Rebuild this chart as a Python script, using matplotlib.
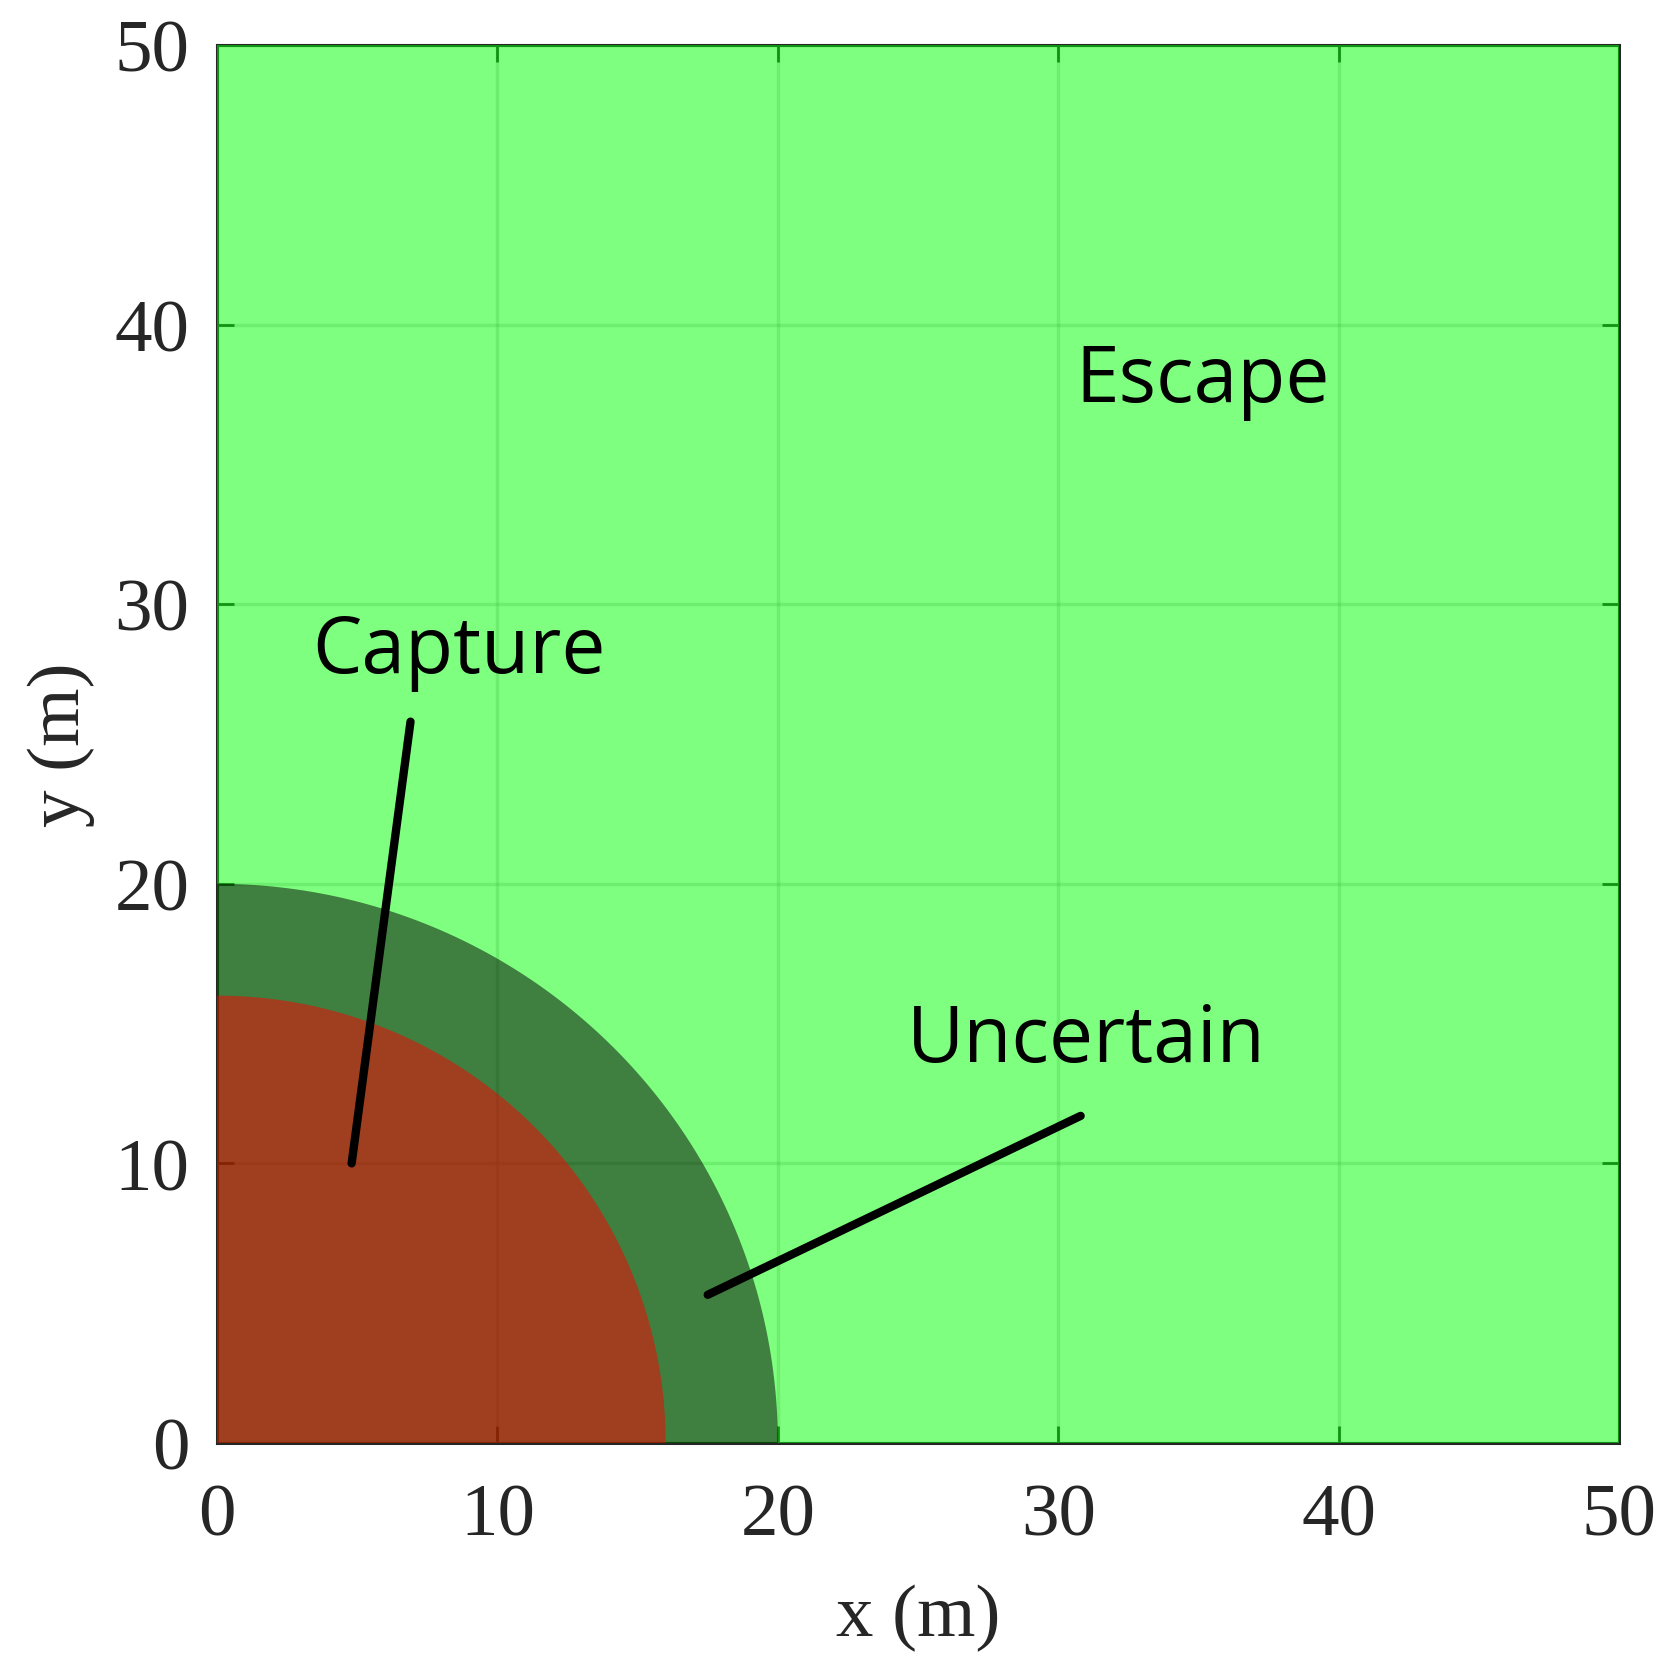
import numpy as np
import matplotlib
matplotlib.use("Agg")
import matplotlib.pyplot as plt

# data
domain = [0, 50]
capture_radius = 16
uncertain_radius = 20
ticks = [0, 10, 20, 30, 40, 50]
labels = [("Escape", 30.6, 38.0), ("Capture", 3.4, 28.3), ("Uncertain", 24.6, 14.4)]
pointer_capture = ([4.8, 6.9], [10.0, 25.8])
pointer_uncertain = ([17.5, 30.8], [5.3, 11.7])

fig = plt.figure(figsize=(16.76, 16.74), dpi=100)
ax = fig.add_axes([0.1295, 0.1374, 0.966 - 0.1295, 0.9725 - 0.1374])
ax.set_xlim(domain)
ax.set_ylim(domain)
ax.set_axisbelow(True)
ax.grid(True, color="#262626", alpha=0.15, linewidth=2.5)
for sp in ax.spines.values():
    sp.set_zorder(0.6)
    sp.set_linewidth(2.2)
    sp.set_color("#262626")

# regions (layered translucent fills)
ax.fill_between(domain, [domain[0]] * 2, [domain[1]] * 2, color=(0, 1, 0), alpha=0.5,
                linewidth=0, zorder=1)
th = np.linspace(0, np.pi / 2, 200)
for r, c in [(uncertain_radius, (0, 0, 0)), (capture_radius, (1, 0, 0))]:
    xs = np.concatenate([[0], r * np.cos(th)])
    ys = np.concatenate([[0], r * np.sin(th)])
    ax.fill(xs, ys, color=c, alpha=0.5, linewidth=0, zorder=1.1)

ax.plot(*pointer_capture, color="black", linewidth=6, solid_capstyle="round", zorder=3)
ax.plot(*pointer_uncertain, color="black", linewidth=6, solid_capstyle="round", zorder=3)
for txt, x, y in labels:
    ax.text(x, y, txt, fontsize=56.5, family="Open Sans", ha="left", va="center", zorder=4)

ax.set_xticks(ticks)
ax.set_yticks(ticks)
ax.tick_params(direction="in", length=12, width=2, color="#262626",
               labelsize=54, labelcolor="#262626", top=True, right=True)
ax.tick_params(axis="x", pad=29)
ax.tick_params(axis="y", pad=20)
for lab in ax.get_xticklabels() + ax.get_yticklabels():
    lab.set_family("Liberation Serif")
ax.set_xlabel("x (m)", fontsize=54, family="Liberation Serif", color="#262626", labelpad=24)
ax.set_ylabel("y (m)", fontsize=54, family="Liberation Serif", color="#262626", labelpad=14)

fig.savefig("out.png", dpi=100)
